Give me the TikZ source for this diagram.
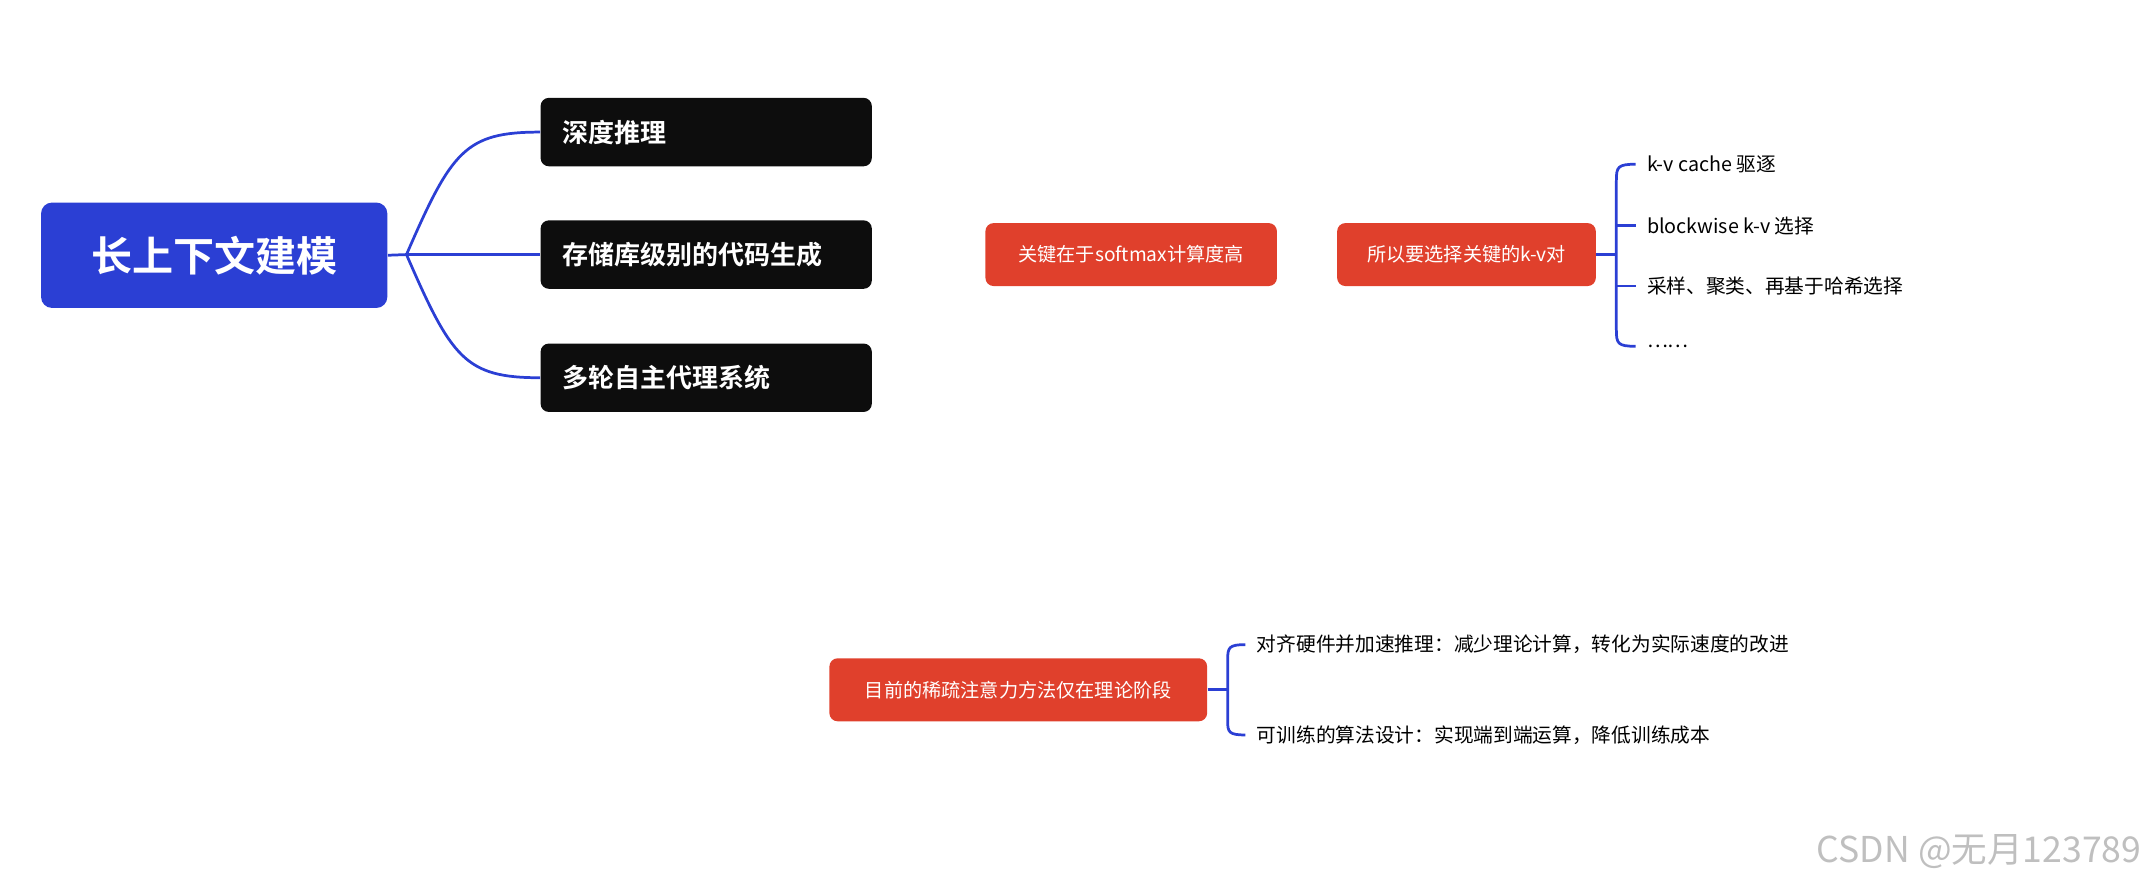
\documentclass[tikz,border=0pt]{standalone}
\usepackage{fontspec}
\setmainfont{Noto Sans CJK SC}
\newfontfamily\cjkb{Noto Sans CJK SC Bold}
\definecolor{mblue}{HTML}{2B3FD4}
\definecolor{mred}{HTML}{E0402C}
\definecolor{lblue}{HTML}{2B3FD4}
\begin{document}
\begin{tikzpicture}[x=0.5pt,y=-0.5pt,
  blk/.style={fill=black!95,rounded corners=3pt,text=white,font=\cjkb\fontsize{9.5}{11}\selectfont,inner sep=0,minimum width=121pt,minimum height=25pt,text width=105pt,align=left},
  rbox/.style={fill=mred,rounded corners=3pt,text=white,font=\fontsize{7}{8}\selectfont,inner sep=0,minimum height=23pt},
  lnk/.style={draw=lblue,line width=1pt},
  itm/.style={anchor=west,font=\fontsize{7.2}{11}\selectfont,inner sep=0}]
\useasboundingbox (0,0) rectangle (1568,649);
\node[fill=mblue,rounded corners=4pt,text=white,font=\cjkb\fontsize{15}{18}\selectfont,minimum width=126.5pt,minimum height=38.5pt] (main) at (156.5,186.5) {长上下文建模};
\node[blk] (b1) at (516,96.5) {深度推理};
\node[blk] (b2) at (516,186) {存储库级别的代码生成};
\node[blk] (b3) at (516,276) {多轮自主代理系统};
\coordinate (j) at (297,186);
\draw[lnk] (main.east) -- (j);
\draw[lnk] (j) .. controls (330,110) and (340,96.5) .. (b1.west);
\draw[lnk] (j) -- (b2.west);
\draw[lnk] (j) .. controls (330,262) and (340,276) .. (b3.west);
\node[rbox,minimum width=106.5pt] (r1) at (826.5,186) {关键在于softmax计算度高};
\node[rbox,minimum width=94.5pt] (r2) at (1071.5,186) {所以要选择关键的k-v对};
\coordinate (k) at (1181,186);
\draw[lnk] (r2.east) -- (k);
\draw[lnk] (1195,120) .. controls (1182,120) and (1181,122) .. (1181,132) -- (1181,241) .. controls (1181,251) and (1182,253) .. (1195,253);
\node[itm] (i1) at (1203,120) {k-v cache 驱逐};
\node[itm] (i2) at (1203,165) {blockwise k-v 选择};
\node[itm] (i3) at (1203,209) {采样、聚类、再基于哈希选择};
\node[itm] (i4) at (1203,253) {……};
\draw[lnk] (1181,165) -- (1195,165);
\draw[lnk] (1181,209) -- (1195,209);
\node[rbox,minimum width=138pt] (r3) at (744,504) {目前的稀疏注意力方法仅在理论阶段};
\draw[lnk] (r3.east) -- (897,504);
\draw[lnk] (910,471) .. controls (898,471) and (897,473) .. (897,482) -- (897,527) .. controls (897,535) and (898,537) .. (910,537);
\node[itm,text width=170pt,align=left] (t1) at (918,471) {对齐硬件并加速推理：减少理论计算，转化为实际速度的改进};
\node[itm,text width=170pt,align=left] (t2) at (918,537) {可训练的算法设计：实现端到端运算，降低训练成本};
\node[anchor=east,text=black!25,font=\fontsize{13}{15}\selectfont,inner sep=0] (wm) at (1565,622) {CSDN @无月123789};
\end{tikzpicture}
\end{document}
